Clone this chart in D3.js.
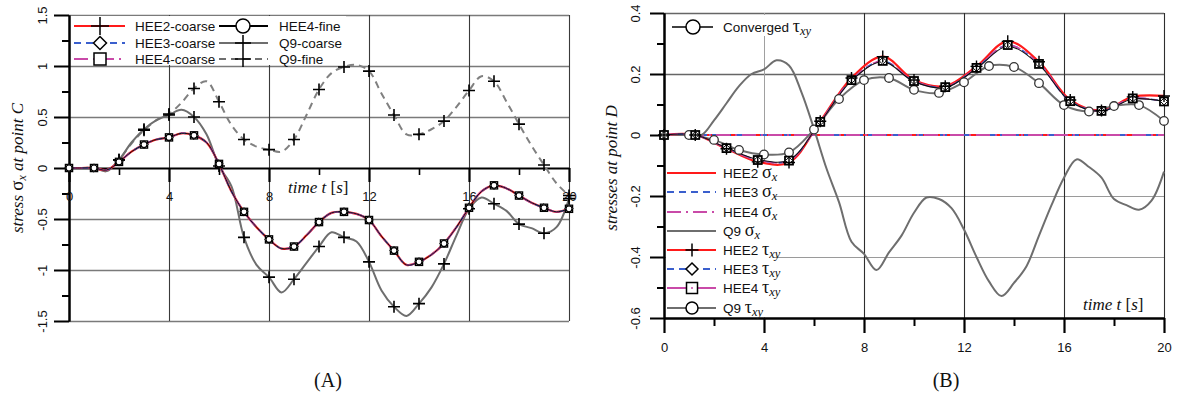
<!DOCTYPE html>
<html>
<head>
<meta charset="utf-8">
<script src="https://cdn.jsdelivr.net/npm/d3@7"></script>
<style>
	body { margin: 0; background: #fff; }
	svg { display: block; }
</style>
</head>
<body>
<svg id="chart" width="1178" height="397"></svg>
<script>
// time samples (s) used for the smooth curves of both panels
const times = [0, 0.5, 1, 1.5, 2, 2.5, 3, 3.5, 4, 4.5, 5, 5.5, 6, 6.5, 7, 7.5, 8, 8.5, 9, 9.5, 10,
	10.5, 11, 11.5, 12, 12.5, 13, 13.5, 14, 14.5, 15, 15.5, 16, 16.5, 17, 17.5, 18, 18.5, 19, 19.5, 20];

// (A) stress sigma_x at point C
const heeSigmaC = [0, 0, 0, -0.02, 0.06, 0.16, 0.23, 0.28, 0.30, 0.34, 0.32, 0.25, 0.04, -0.23, -0.43,
	-0.58, -0.70, -0.79, -0.77, -0.66, -0.53, -0.44, -0.43, -0.45, -0.51, -0.67, -0.81, -0.95, -0.92,
	-0.85, -0.74, -0.58, -0.39, -0.23, -0.17, -0.20, -0.27, -0.34, -0.39, -0.43, -0.40];
const q9CoarseC = [0, 0, 0, -0.03, 0.08, 0.25, 0.38, 0.47, 0.52, 0.57, 0.50, 0.33, 0.02, -0.18, -0.68,
	-0.95, -1.07, -1.22, -1.09, -0.93, -0.77, -0.63, -0.68, -0.72, -0.92, -1.20, -1.36, -1.45, -1.33,
	-1.17, -0.94, -0.66, -0.40, -0.29, -0.35, -0.42, -0.55, -0.59, -0.64, -0.58, -0.30];
const q9FineC = [0, 0, 0, -0.03, 0.08, 0.24, 0.37, 0.47, 0.53, 0.64, 0.78, 0.85, 0.65, 0.42, 0.28,
	0.21, 0.18, 0.16, 0.28, 0.52, 0.77, 0.93, 0.99, 1.01, 0.95, 0.73, 0.52, 0.33, 0.33, 0.38, 0.46,
	0.60, 0.76, 0.90, 0.85, 0.65, 0.43, 0.22, 0.03, -0.15, -0.27];

// (B) stresses at point D
const q9SigmaD = [0, 0, 0, 0, 0.048, 0.104, 0.16, 0.20, 0.215, 0.245, 0.228, 0.14, 0.02, -0.11, -0.22,
	-0.35, -0.39, -0.443, -0.385, -0.33, -0.255, -0.205, -0.21, -0.24, -0.31, -0.40, -0.48, -0.528,
	-0.485, -0.43, -0.33, -0.23, -0.14, -0.08, -0.105, -0.14, -0.21, -0.23, -0.245, -0.215, -0.12];
const sigmaTimes = [0, 20];
const heeSigmaD = [0, 0];

const tauTimes = [0, 1.25, 2.5, 3.75, 5, 6.25, 7.5, 8.75, 10, 11.25, 12.5, 13.75, 15, 16.25, 17.5, 18.75, 20];
const hee2Tau = [0, 0, -0.045, -0.088, -0.09, 0.045, 0.187, 0.257, 0.18, 0.16, 0.225, 0.307, 0.24, 0.115, 0.08, 0.125, 0.128];
const hee34Tau = [0, 0, -0.043, -0.082, -0.084, 0.043, 0.18, 0.243, 0.177, 0.157, 0.22, 0.295, 0.233, 0.111, 0.079, 0.12, 0.11];
const convTau = [0, 0, -0.042, -0.08, -0.082, 0.042, 0.178, 0.24, 0.175, 0.155, 0.218, 0.29, 0.23, 0.11, 0.078, 0.118, 0.11];

const q9TauTimes = [0, 1, 2, 3, 4, 5, 6, 7, 8, 9, 10, 11, 12, 13, 14, 15, 16, 17, 18, 19, 20];
const q9Tau = [0, 0, -0.016, -0.049, -0.064, -0.057, 0.018, 0.118, 0.18, 0.187, 0.148, 0.138, 0.173,
	0.226, 0.223, 0.17, 0.098, 0.077, 0.095, 0.098, 0.046];

// axis ticks
const xMajor = [0, 4, 8, 12, 16, 20];
const xMinor = [2, 6, 10, 14, 18];
const yMajorA = [1.5, 1, 0.5, 0, -0.5, -1, -1.5];
const yMinorA = [1.25, 0.75, 0.25, -0.25, -0.75, -1.25];
const yMajorB = [0.4, 0.2, 0, -0.2, -0.4, -0.6];
const yMinorB = [0.3, 0.1, -0.1, -0.3, -0.5];

const SANS = 'Arial, "Liberation Sans", sans-serif';
const SERIF = '"Times New Roman", "Liberation Serif", serif';
const RED = '#ff1a1a', BLUE = '#3a5fcd', PINK = '#c94aa8', GRAY = '#6e6e6e';
const DASH = '7,5', DASHDOT = '14,5,2,5';

const svg = d3.select('#chart');

const xA = d3.scaleLinear().domain([0, 20]).range([69, 569]);
const yA = d3.scaleLinear().domain([-1.5, 1.5]).range([321, 15]);
const xB = d3.scaleLinear().domain([0, 20]).range([664, 1164]);
const yB = d3.scaleLinear().domain([-0.6, 0.4]).range([318, 13]);

const smooth = d3.curveCatmullRom.alpha(0.5);

function drawLine(g, x, y, ts, vs, color, width, dash) {
	const line = d3.line().x((d, i) => x(ts[i])).y(d => y(d)).curve(smooth);
	g.append('path')
		.attr('d', line(vs))
		.attr('fill', 'none')
		.attr('stroke', color)
		.attr('stroke-width', width)
		.attr('stroke-dasharray', dash || null);
}

function marker(g, type, cx, cy, s, stroke, w) {
	stroke = stroke || '#000';
	w = w || 1.3;
	if (type === 'plus') {
		g.append('path')
			.attr('d', `M${cx - s},${cy}H${cx + s}M${cx},${cy - s}V${cy + s}`)
			.attr('stroke', stroke).attr('stroke-width', w).attr('fill', 'none');
	} else if (type === 'diamond') {
		g.append('path')
			.attr('d', `M${cx},${cy - s}L${cx + s},${cy}L${cx},${cy + s}L${cx - s},${cy}Z`)
			.attr('stroke', stroke).attr('stroke-width', w).attr('fill', '#fff');
	} else if (type === 'square' || type === 'dotsquare') {
		g.append('rect')
			.attr('x', cx - s).attr('y', cy - s).attr('width', 2 * s).attr('height', 2 * s)
			.attr('stroke', stroke).attr('stroke-width', w).attr('fill', '#fff');
		if (type === 'dotsquare') g.append('circle').attr('cx', cx).attr('cy', cy).attr('r', 1).attr('fill', PINK);
	} else if (type === 'circle') {
		g.append('circle').attr('cx', cx).attr('cy', cy).attr('r', s)
			.attr('stroke', stroke).attr('stroke-width', w).attr('fill', '#fff');
	}
}

function markersAt(g, x, y, ts, vs, type, s, keep, stroke, w) {
	ts.forEach((t, i) => {
		if (keep(t)) marker(g, type, x(t), y(vs[i]), s, stroke, w);
	});
}

function styleAxis(g, width) {
	g.select('.domain').attr('stroke', '#000').attr('stroke-width', width);
	g.selectAll('.tick line').attr('stroke', '#000').attr('stroke-width', width);
	g.selectAll('text').attr('font-family', SANS).attr('font-size', 13).attr('fill', '#111');
}

function rotateLabels(g, dx) {
	g.selectAll('.tick text')
		.attr('x', 0).attr('y', 0).attr('dy', '0.35em')
		.attr('text-anchor', 'middle')
		.attr('transform', `translate(${dx},0) rotate(-90)`);
}

function gridX(g, x, y0, y1, values, color, width) {
	g.append('g')
		.attr('transform', `translate(0,${y0})`)
		.call(d3.axisBottom(x).tickValues(values).tickSize(-(y0 - y1)).tickFormat(''))
		.call(a => a.select('.domain').remove())
		.selectAll('line').attr('stroke', color).attr('stroke-width', width);
}

function gridY(g, y, x0, x1, values, color, width) {
	g.append('g')
		.attr('transform', `translate(${x0},0)`)
		.call(d3.axisLeft(y).tickValues(values).tickSize(-(x1 - x0)).tickFormat(''))
		.call(a => a.select('.domain').remove())
		.selectAll('line').attr('stroke', color).attr('stroke-width', width);
}

function richText(g, x, y, base, sym, sub, size) {
	const t = g.append('text').attr('x', x).attr('y', y)
		.attr('font-family', SANS).attr('font-size', size || 13.5).attr('fill', '#111');
	t.append('tspan').text(base);
	t.append('tspan').attr('font-family', SERIF).attr('font-size', 18).text(sym);
	t.append('tspan').attr('font-family', SERIF).attr('font-style', 'italic')
		.attr('font-size', 12.5).attr('dy', 3).text(sub);
}

function legendRow(g, x0, x1, y, color, width, dash, mType, mSize, mx) {
	g.append('line').attr('x1', x0).attr('x2', x1).attr('y1', y).attr('y2', y)
		.attr('stroke', color).attr('stroke-width', width).attr('stroke-dasharray', dash || null);
	if (mType) marker(g, mType, mx, y, mSize, '#000', 1.5);
}

// ================= panel A =================
const gA = svg.append('g');

gridY(gA, yA, 69, 569, [1.5, 1, 0.5, -0.5, -1, -1.5], '#7a7a7a', 1.6);
gridX(gA, xA, 321, 15, [4, 8, 12, 16, 20], '#3a3a3a', 1.1);

// legend background
gA.append('rect').attr('x', 70).attr('y', 16).attr('width', 276).attr('height', 49).attr('fill', '#fff');

// y axis
gA.append('g').attr('transform', 'translate(69,0)')
	.call(d3.axisLeft(yA).tickValues(yMinorA).tickSize(7).tickSizeOuter(0).tickFormat(''))
	.call(a => styleAxis(a, 2));
gA.append('g').attr('transform', 'translate(69,0)')
	.call(d3.axisLeft(yA).tickValues(yMajorA).tickSize(15).tickSizeOuter(0).tickFormat(d => String(d)))
	.call(a => styleAxis(a, 2))
	.call(a => rotateLabels(a, -27));

// x axis along zero
gA.append('g').attr('transform', `translate(0,${yA(0)})`)
	.call(d3.axisBottom(xA).tickValues(xMajor).tickSize(14).tickPadding(10).tickSizeOuter(0).tickFormat(d => String(d)))
	.call(a => styleAxis(a, 2.2));
gA.append('g').attr('transform', `translate(0,${yA(0)})`)
	.call(d3.axisBottom(xA).tickValues(xMinor).tickSize(7).tickSizeOuter(0).tickFormat(''))
	.call(a => styleAxis(a, 1.6))
	.call(a => a.select('.domain').remove());

// curves
drawLine(gA, xA, yA, times, q9FineC, '#808080', 2, DASH);
drawLine(gA, xA, yA, times, q9CoarseC, GRAY, 2);
drawLine(gA, xA, yA, times, heeSigmaC, RED, 2.2);
drawLine(gA, xA, yA, times, heeSigmaC, BLUE, 1.6, DASH);
drawLine(gA, xA, yA, times, heeSigmaC, PINK, 1.6, DASHDOT);
drawLine(gA, xA, yA, times, heeSigmaC, '#111', 1);

const whole = t => Number.isInteger(t);
markersAt(gA, xA, yA, times, q9FineC, 'plus', 6, t => whole(t) && t >= 2, '#000', 1.6);
markersAt(gA, xA, yA, times, q9CoarseC, 'plus', 6, t => whole(t) && t >= 2, '#000', 1.6);
markersAt(gA, xA, yA, times, heeSigmaC, 'square', 3.6, whole, '#000', 1.3);
markersAt(gA, xA, yA, times, heeSigmaC, 'diamond', 4.2, whole, '#000', 1);
markersAt(gA, xA, yA, times, heeSigmaC, 'circle', 3, whole, '#000', 1.2);

// legend A
const legA = gA.append('g');
const legendA = [
	{ label: 'HEE2-coarse', col: 0, row: 0, color: RED, dash: null, m: 'plus', s: 9 },
	{ label: 'HEE3-coarse', col: 0, row: 1, color: BLUE, dash: DASH, m: 'diamond', s: 6.5 },
	{ label: 'HEE4-coarse', col: 0, row: 2, color: PINK, dash: DASHDOT, m: 'square', s: 6 },
	{ label: 'HEE4-fine', col: 1, row: 0, color: '#000', dash: null, m: 'circle', s: 7 },
	{ label: 'Q9-coarse', col: 1, row: 1, color: GRAY, dash: null, m: 'plus', s: 8 },
	{ label: 'Q9-fine', col: 1, row: 2, color: GRAY, dash: DASH, m: 'plus', s: 8 }
];
const legRowsA = [26, 43, 59];
const legColsA = [{ x0: 74, x1: 125, mx: 100, tx: 135 }, { x0: 219, x1: 268, mx: 243, tx: 279 }];
legendA.forEach(d => {
	const c = legColsA[d.col], y = legRowsA[d.row];
	legendRow(legA, c.x0, c.x1, y, d.color, 2, d.dash, d.m, d.s, c.mx);
	legA.append('text').attr('x', c.tx).attr('y', y + 5)
		.attr('font-family', SANS).attr('font-size', 13.5).attr('fill', '#111').text(d.label);
});

// labels A
const tA = gA.append('text').attr('x', 288).attr('y', 193)
	.attr('font-family', SERIF).attr('font-size', 17).attr('fill', '#111');
tA.append('tspan').attr('font-style', 'italic').text('time t ');
tA.append('tspan').text('[');
tA.append('tspan').attr('font-style', 'italic').text('s');
tA.append('tspan').text(']');

const yLabA = gA.append('text').attr('transform', 'translate(23,168) rotate(-90)')
	.attr('text-anchor', 'middle').attr('font-family', SERIF).attr('font-size', 17)
	.attr('font-style', 'italic').attr('fill', '#111');
yLabA.append('tspan').text('stress ');
yLabA.append('tspan').attr('font-style', 'normal').attr('font-size', 19).text('σ');
yLabA.append('tspan').attr('font-size', 12).attr('dy', 3).text('x');
yLabA.append('tspan').attr('dy', -3).text(' at point C');

gA.append('text').attr('x', 328).attr('y', 387).attr('text-anchor', 'middle')
	.attr('font-family', SERIF).attr('font-size', 20).attr('fill', '#111').text('(A)');

// ================= panel B =================
const gB = svg.append('g');

gridY(gB, yB, 664, 1164, [0.4, 0.2], '#666', 1.6);
gridY(gB, yB, 664, 1164, [-0.2, -0.4], '#9a9a9a', 1);
gridX(gB, xB, 318, 13, [4], '#a0a0a0', 1);
gridX(gB, xB, 318, 13, [8, 12, 16, 20], '#2e2e2e', 1.1);

// legend backgrounds
gB.append('rect').attr('x', 666).attr('y', 15).attr('width', 140).attr('height', 21).attr('fill', '#fff');
gB.append('rect').attr('x', 666).attr('y', 163).attr('width', 108).attr('height', 154).attr('fill', '#fff');

// axes
gB.append('g').attr('transform', 'translate(664,0)')
	.call(d3.axisLeft(yB).tickValues(yMinorB).tickSize(7).tickSizeOuter(0).tickFormat(''))
	.call(a => styleAxis(a, 2));
gB.append('g').attr('transform', 'translate(664,0)')
	.call(d3.axisLeft(yB).tickValues(yMajorB).tickSize(14).tickSizeOuter(0).tickFormat(d => String(d)))
	.call(a => styleAxis(a, 2))
	.call(a => rotateLabels(a, -29));
gB.append('g').attr('transform', 'translate(0,318)')
	.call(d3.axisBottom(xB).tickValues(xMinor).tickSize(8).tickSizeOuter(0).tickFormat(''))
	.call(a => styleAxis(a, 2));
gB.append('g').attr('transform', 'translate(0,318)')
	.call(d3.axisBottom(xB).tickValues(xMajor).tickSize(15).tickPadding(10).tickSizeOuter(0).tickFormat(d => String(d)))
	.call(a => styleAxis(a, 2.2));

// sigma_x curves
drawLine(gB, xB, yB, sigmaTimes, heeSigmaD, RED, 1.8);
drawLine(gB, xB, yB, sigmaTimes, heeSigmaD, BLUE, 1.8, DASH);
drawLine(gB, xB, yB, sigmaTimes, heeSigmaD, PINK, 1.8, DASHDOT);
drawLine(gB, xB, yB, times, q9SigmaD, GRAY, 2);

// tau_xy curves
drawLine(gB, xB, yB, q9TauTimes, q9Tau, GRAY, 2);
drawLine(gB, xB, yB, tauTimes, hee2Tau, RED, 2.2);
drawLine(gB, xB, yB, tauTimes, hee34Tau, BLUE, 1.6, DASH);
drawLine(gB, xB, yB, tauTimes, hee34Tau, PINK, 1.6, DASHDOT);
drawLine(gB, xB, yB, tauTimes, convTau, '#111', 1.1);

markersAt(gB, xB, yB, q9TauTimes, q9Tau, 'circle', 4.3, () => true, '#333', 1.3);
markersAt(gB, xB, yB, tauTimes, hee34Tau, 'square', 4, () => true, '#000', 1.8);
markersAt(gB, xB, yB, tauTimes, hee34Tau, 'diamond', 3.5, () => true, '#000', 1);
markersAt(gB, xB, yB, tauTimes, hee2Tau, 'plus', 6, () => true, '#000', 1.4);

// legend B
const legB = gB.append('g');
legendRow(legB, 672, 713, 27, '#000', 1.5, null, 'circle', 7, 693);
richText(legB, 723, 32, 'Converged ', 'τ', 'xy');

const legendB = [
	{ base: 'HEE2 ', sym: 'σ', sub: 'x', color: RED, dash: null, m: null },
	{ base: 'HEE3 ', sym: 'σ', sub: 'x', color: BLUE, dash: DASH, m: null },
	{ base: 'HEE4 ', sym: 'σ', sub: 'x', color: PINK, dash: DASHDOT, m: null },
	{ base: 'Q9 ', sym: 'σ', sub: 'x', color: GRAY, dash: null, m: null },
	{ base: 'HEE2 ', sym: 'τ', sub: 'xy', color: RED, dash: null, m: 'plus', s: 6.5 },
	{ base: 'HEE3 ', sym: 'τ', sub: 'xy', color: BLUE, dash: DASH, m: 'diamond', s: 6 },
	{ base: 'HEE4 ', sym: 'τ', sub: 'xy', color: PINK, dash: null, m: 'dotsquare', s: 5.5 },
	{ base: 'Q9 ', sym: 'τ', sub: 'xy', color: GRAY, dash: null, m: 'circle', s: 6 }
];
const legRowsB = [173, 192, 212, 231, 250, 269, 288, 308];
legendB.forEach((d, i) => {
	const y = legRowsB[i];
	legendRow(legB, 667, 716, y, d.color, 2, d.dash, d.m, d.s, 692);
	richText(legB, 723, y + 5, d.base, d.sym, d.sub);
});

// labels B
const tB = gB.append('text').attr('x', 1083).attr('y', 310)
	.attr('font-family', SERIF).attr('font-size', 17).attr('fill', '#111');
tB.append('tspan').attr('font-style', 'italic').text('time t ');
tB.append('tspan').text('[');
tB.append('tspan').attr('font-style', 'italic').text('s');
tB.append('tspan').text(']');

gB.append('text').attr('transform', 'translate(617,168) rotate(-90)')
	.attr('text-anchor', 'middle').attr('font-family', SERIF).attr('font-size', 17)
	.attr('font-style', 'italic').attr('fill', '#111').text('stresses at point D');

gB.append('text').attr('x', 946).attr('y', 387).attr('text-anchor', 'middle')
	.attr('font-family', SERIF).attr('font-size', 20).attr('fill', '#111').text('(B)');
</script>
</body>
</html>
